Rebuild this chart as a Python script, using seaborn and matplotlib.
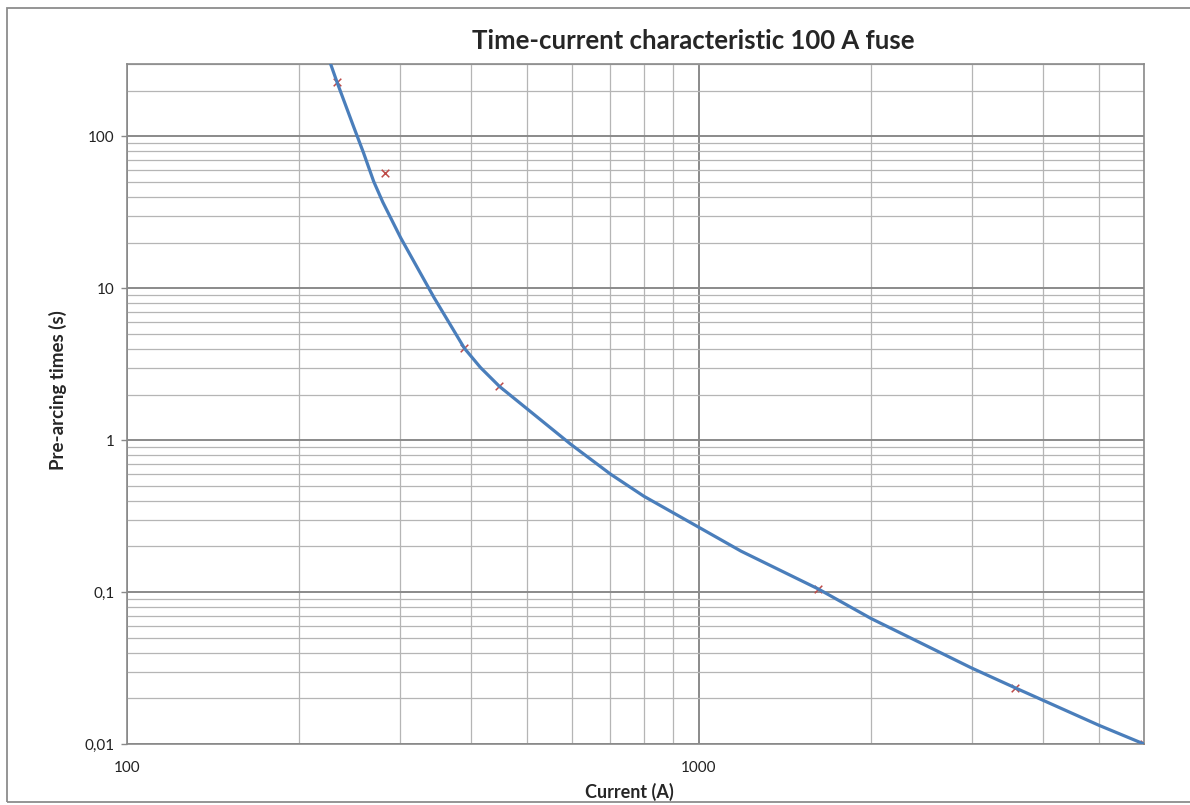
import numpy as np
import pandas as pd
import matplotlib
matplotlib.use("Agg")
import matplotlib.pyplot as plt
import matplotlib.ticker as mticker
from matplotlib.patches import Rectangle
import seaborn as sns

# Curve (current in A, pre-arcing time in s)
curve_current = [227, 233, 249, 259, 270, 280, 292, 301, 344, 389, 415, 448, 597, 701, 801,
                 1000, 1185, 1616, 2000, 3000, 3575, 5000, 6000]
curve_time = [300, 227, 116, 78.5, 50.5, 37, 27, 21.5, 8.73, 4.03, 3.01, 2.26, 0.94, 0.597, 0.428,
              0.267, 0.186, 0.105, 0.067, 0.0316, 0.0234, 0.0133, 0.01]

# Measured points (x markers)
meas_current = [233, 282, 389, 448, 1616, 3575, 6000]
meas_time = [227, 57.9, 4.03, 2.26, 0.1046, 0.0234, 0.01]

x_ticks = [100, 1000]
x_tick_labels = ["100", "1000"]
y_ticks = [0.01, 0.1, 1, 10, 100]
y_tick_labels = ["0,01", "0,1", "1", "10", "100"]

title = "Time-current characteristic 100 A fuse"
x_label = "Current (A)"
y_label = "Pre-arcing times (s)"

curve_df = pd.DataFrame({"Current": curve_current, "Time": curve_time})
meas_df = pd.DataFrame({"Current": meas_current, "Time": meas_time})

sns.set_style("white")
plt.rcParams["font.family"] = ["Lato", "DejaVu Sans"]

fig = plt.figure(figsize=(11.9, 8.05), dpi=100)
ax = fig.add_axes([127 / 1190, 1 - 744 / 805, (1144 - 127) / 1190, (744 - 64) / 805])

ax.set_xscale("log")
ax.set_yscale("log")

sns.lineplot(data=curve_df, x="Current", y="Time", ax=ax, color="#4A7EBB", linewidth=2.3,
             solid_capstyle="round", solid_joinstyle="round", zorder=3)
sns.scatterplot(data=meas_df, x="Current", y="Time", ax=ax, marker="x", color="#BE4B48",
                s=30, linewidth=1.1, zorder=2)

ax.set_xlim(100, 6000)
ax.set_ylim(0.01, 300)

ax.xaxis.set_major_locator(mticker.FixedLocator(x_ticks))
ax.xaxis.set_major_formatter(mticker.FixedFormatter(x_tick_labels))
ax.yaxis.set_major_locator(mticker.FixedLocator(y_ticks))
ax.yaxis.set_major_formatter(mticker.FixedFormatter(y_tick_labels))
ax.xaxis.set_minor_locator(mticker.LogLocator(base=10, subs=np.arange(2, 10), numticks=20))
ax.yaxis.set_minor_locator(mticker.LogLocator(base=10, subs=np.arange(2, 10), numticks=20))
ax.xaxis.set_minor_formatter(mticker.NullFormatter())
ax.yaxis.set_minor_formatter(mticker.NullFormatter())

ax.grid(which="major", color="#8a8a8a", linewidth=1.4, zorder=0)
ax.grid(which="minor", color="#b5b5b5", linewidth=0.9, zorder=0)
ax.set_axisbelow(True)

ax.tick_params(axis="y", which="major", left=True, length=4, width=1, color="#8a8a8a",
               labelsize=11, pad=5, labelcolor="#222222")
ax.tick_params(axis="x", which="major", bottom=False, labelsize=11, pad=9, labelcolor="#222222")
ax.tick_params(which="minor", length=0)

for sp in ax.spines.values():
    sp.set_color("#8a8a8a")
    sp.set_linewidth(1.2)

ax.set_xlabel(x_label, fontsize=13, fontweight="bold")
ax.set_ylabel(y_label, fontsize=13.5, fontweight="bold")
ax.xaxis.set_label_coords((629 - 127) / (1144 - 127), -(792 - 744) / (744 - 64))
ax.yaxis.set_label_coords(-(127 - 58) / (1144 - 127), (744 - 390) / (744 - 64))
ax.xaxis.label.set_va("center")
ax.yaxis.label.set_va("center")

fig.text(693 / 1190, 1 - 41 / 805, title, fontsize=18.5, fontweight="bold", ha="center", va="center")

# chart border
fig.patches.append(Rectangle((7 / 1190, 1 - 802 / 805), 1.2, (802 - 8) / 805,
                             transform=fig.transFigure, fill=False, edgecolor="#8c8c8c",
                             linewidth=1.3))

fig.savefig("out.png", dpi=100)
